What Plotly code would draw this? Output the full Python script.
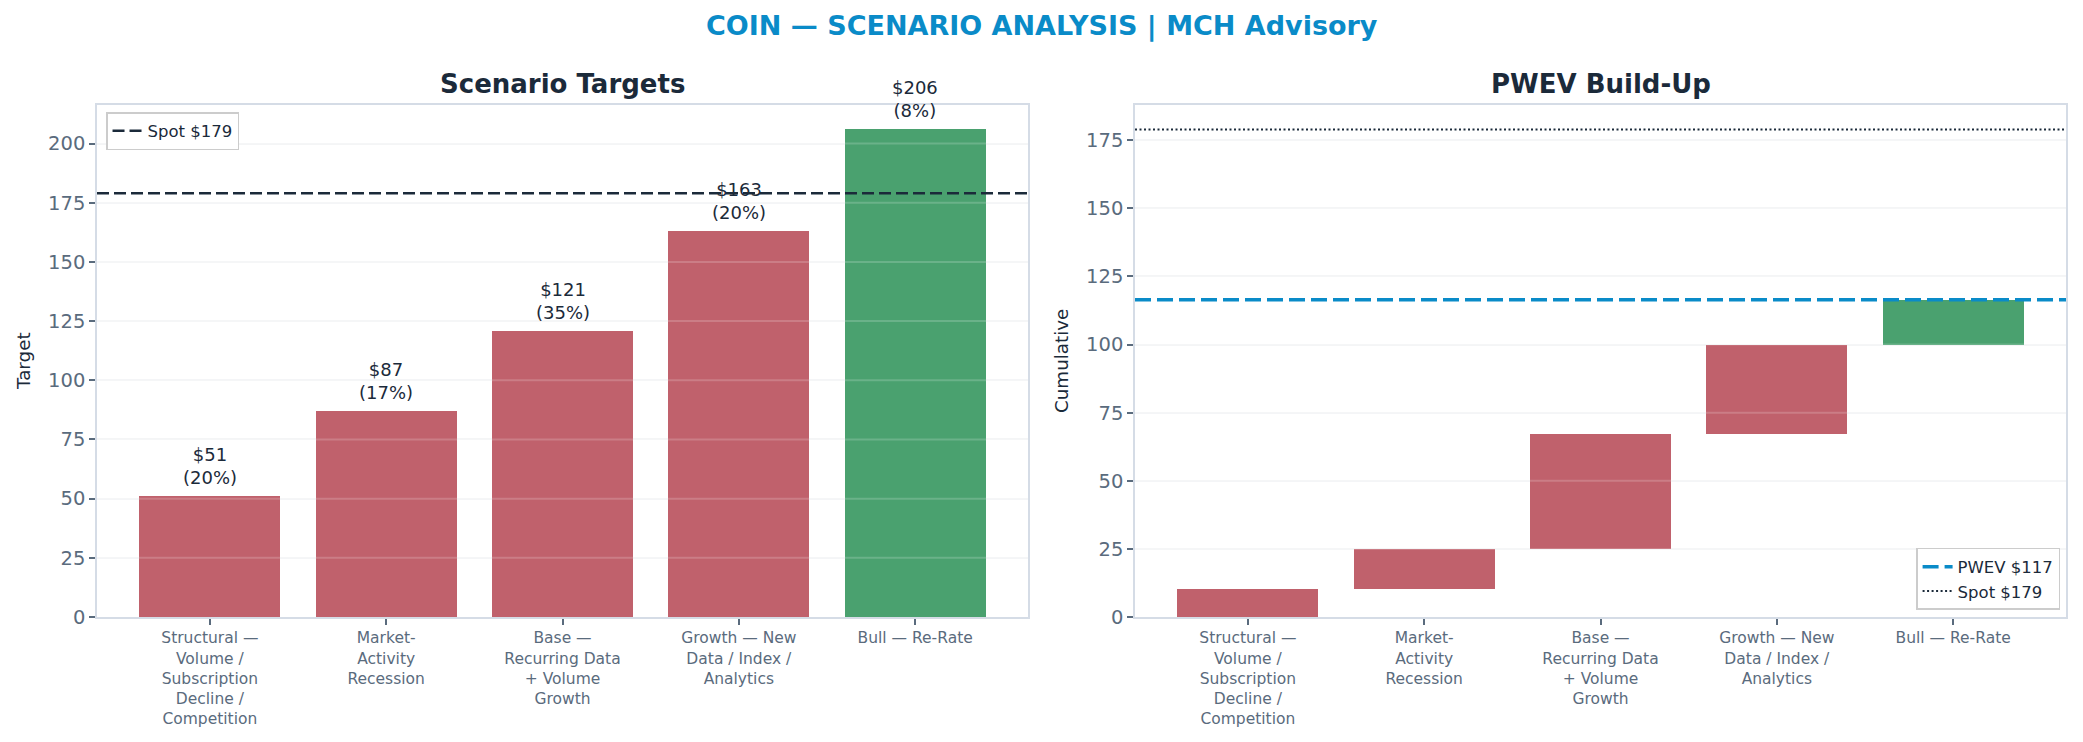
import plotly.graph_objects as go

# ---- data ----
SCENARIOS = [
    "Structural —<br>Volume /<br>Subscription<br>Decline /<br>Competition",
    "Market-<br>Activity<br>Recession",
    "Base —<br>Recurring Data<br>+ Volume<br>Growth",
    "Growth — New<br>Data / Index /<br>Analytics",
    "Bull — Re-Rate",
]
TARGETS = [51, 87, 121, 163, 206]
PROBS = [20, 17, 35, 20, 8]          # percent
SPOT = 179
PWEV = 116.5
PWEV_LABEL = "PWEV $117"
SPOT_LABEL = "Spot $179"
LEFT_TICKS = [0, 25, 50, 75, 100, 125, 150, 175, 200]
RIGHT_TICKS = [0, 25, 50, 75, 100, 125, 150, 175]

# ---- styling ----
FONT = "DejaVu Sans"
DARK = "#1B2A3A"
GREY = "#5A6B7D"
SPINE = "#D5DCE6"
BLUE = "#0A8BC8"
RED = "#C0616C"
GREEN = "#4AA16F"
bar_colors = [RED, RED, RED, RED, GREEN]

xs = list(range(len(SCENARIOS)))
contrib = [t * p / 100 for t, p in zip(TARGETS, PROBS)]
bases = []
run = 0.0
for c in contrib:
    bases.append(run)
    run += c

fig = go.Figure()

# Left: scenario targets
fig.add_trace(go.Bar(
    x=xs, y=TARGETS, width=0.8, marker=dict(color=bar_colors, line=dict(width=0)),
    showlegend=False, xaxis="x", yaxis="y", hoverinfo="skip",
))
fig.add_trace(go.Scatter(
    x=[None], y=[None], mode="lines", name=SPOT_LABEL,
    line=dict(color=DARK, width=2.5, dash="12px,5px"),
    xaxis="x", yaxis="y", legend="legend",
))

# Right: PWEV build-up
fig.add_trace(go.Bar(
    x=xs, y=contrib, base=bases, width=0.8,
    marker=dict(color=bar_colors, line=dict(width=0)),
    showlegend=False, xaxis="x2", yaxis="y2", hoverinfo="skip",
))
fig.add_trace(go.Scatter(
    x=[None], y=[None], mode="lines", name=PWEV_LABEL,
    line=dict(color=BLUE, width=3.5, dash="16px,6px"),
    xaxis="x2", yaxis="y2", legend="legend2",
))
fig.add_trace(go.Scatter(
    x=[None], y=[None], mode="lines", name=SPOT_LABEL,
    line=dict(color=DARK, width=2, dash="2px,2.5px"),
    xaxis="x2", yaxis="y2", legend="legend2",
))

shapes = []
# gridlines drawn over bars (faint)
for t in LEFT_TICKS[1:]:
    shapes.append(dict(type="line", xref="x domain", yref="y", x0=0, x1=1, y0=t, y1=t,
                       line=dict(color="rgba(255,255,255,0.18)", width=2), layer="above"))
for t in RIGHT_TICKS[1:]:
    shapes.append(dict(type="line", xref="x2 domain", yref="y2", x0=0, x1=1, y0=t, y1=t,
                       line=dict(color="rgba(255,255,255,0.18)", width=2), layer="above"))
shapes.append(dict(type="line", xref="x domain", yref="y", x0=0, x1=1, y0=SPOT, y1=SPOT,
                   line=dict(color=DARK, width=2.5, dash="12px,5px"), layer="above"))
shapes.append(dict(type="line", xref="x2 domain", yref="y2", x0=0, x1=1, y0=SPOT, y1=SPOT,
                   line=dict(color=DARK, width=2, dash="2px,2.5px"), layer="above"))
shapes.append(dict(type="line", xref="x2 domain", yref="y2", x0=0, x1=1, y0=PWEV, y1=PWEV,
                   line=dict(color=BLUE, width=3.5, dash="16px,6px"), layer="above"))

axis_common = dict(
    showline=True, linecolor=SPINE, linewidth=1.5, mirror=True,
    ticks="outside", ticklen=6, tickwidth=1.5, tickcolor=GREY,
    tickfont=dict(family=FONT, size=19.5, color=GREY),
    zeroline=False,
)
xaxis_common = dict(axis_common, tickvals=xs, ticktext=SCENARIOS, range=[-0.64, 4.64],
                    showgrid=False, tickfont=dict(family=FONT, size=15.5, color=GREY))

annotations = [
    dict(text="<b>COIN — SCENARIO ANALYSIS | MCH Advisory</b>", xref="paper", yref="paper",
         x=0.5, y=0.965, xanchor="center", yanchor="middle", showarrow=False,
         font=dict(family=FONT, size=27, color=BLUE)),
    dict(text="<b>Scenario Targets</b>", xref="paper", yref="paper",
         x=0.27, y=0.8868, xanchor="center", yanchor="middle", showarrow=False,
         font=dict(family=FONT, size=26, color=DARK)),
    dict(text="<b>PWEV Build-Up</b>", xref="paper", yref="paper",
         x=0.7684, y=0.8868, xanchor="center", yanchor="middle", showarrow=False,
         font=dict(family=FONT, size=26, color=DARK)),
    dict(text="Target", xref="paper", yref="paper", textangle=-90,
         x=24 / 2083, y=0.5135, xanchor="center", yanchor="middle", showarrow=False,
         font=dict(family=FONT, size=18.3, color=DARK)),
    dict(text="Cumulative", xref="paper", yref="paper", textangle=-90,
         x=1062 / 2083, y=0.5135, xanchor="center", yanchor="middle", showarrow=False,
         font=dict(family=FONT, size=18.3, color=DARK)),
]
# bar value labels
for x, t, p in zip(xs, TARGETS, PROBS):
    annotations.append(dict(
        text=f"${t}<br>({p}%)", xref="x", yref="y", x=x, y=t,
        xanchor="center", yanchor="bottom", yshift=6, showarrow=False,
        font=dict(family=FONT, size=18, color=DARK),
    ))

fig.update_layout(
    width=2083, height=742,
    margin=dict(l=0, r=0, t=0, b=0, autoexpand=False),
    paper_bgcolor="white", plot_bgcolor="white",
    font=dict(family=FONT, color=DARK),
    bargap=0,
    shapes=shapes,
    xaxis=dict(xaxis_common, domain=[0.04657, 0.49352], anchor="y"),
    yaxis=dict(axis_common, domain=[0.16846, 0.85849], anchor="x", range=[0, 216.3],
               tickvals=LEFT_TICKS, showgrid=True, gridcolor="#F3F4F6", gridwidth=1.5),
    xaxis2=dict(xaxis_common, domain=[0.54489, 0.99184], anchor="y2"),
    yaxis2=dict(axis_common, domain=[0.16846, 0.85849], anchor="x2", range=[0, 187.95],
                tickvals=RIGHT_TICKS, showgrid=True, gridcolor="#F3F4F6", gridwidth=1.5),
    legend=dict(x=0.0509, y=0.8490, xanchor="left", yanchor="top",
                bgcolor="white", bordercolor="#CCCCCC", borderwidth=1.5,
                font=dict(family=FONT, size=16.5, color=DARK)),
    legend2=dict(x=0.989, y=0.178, xanchor="right", yanchor="bottom",
                 bgcolor="white", bordercolor="#CCCCCC", borderwidth=1.5,
                 font=dict(family=FONT, size=16.5, color=DARK)),
    annotations=annotations,
)

post = (
    "document.documentElement.style.margin='0';"
    "document.documentElement.style.overflow='hidden';"
    "document.body.style.margin='0';"
    "document.body.style.overflow='hidden';"
    "var gd=document.getElementById('{plot_id}');"
    "gd.style.position='fixed';gd.style.top='0px';gd.style.left='0px';"
)
fig.write_html("out.html", post_script=post, config={"displayModeBar": False})
